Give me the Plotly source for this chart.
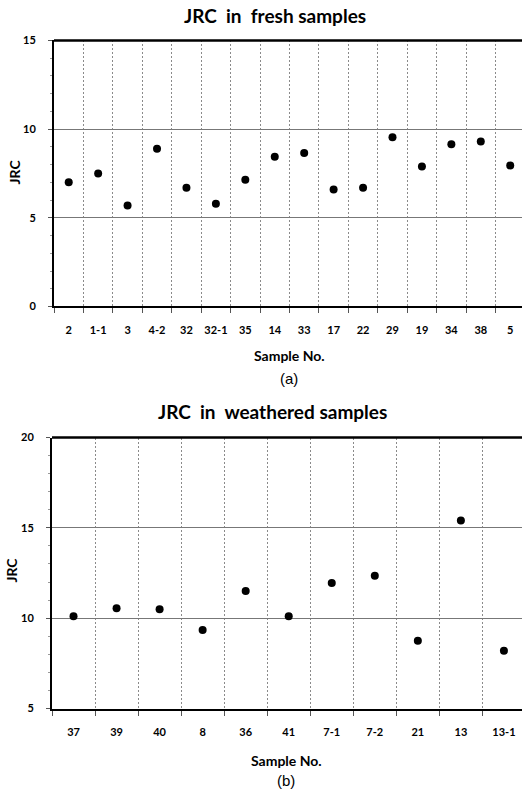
import plotly.graph_objects as go

fresh_samples = ["2", "1-1", "3", "4-2", "32", "32-1", "35", "14", "33", "17", "22", "29", "19", "34", "38", "5"]
fresh_jrc = [7.0, 7.5, 5.7, 8.9, 6.7, 5.8, 7.15, 8.45, 8.65, 6.6, 6.7, 9.55, 7.9, 9.15, 9.3, 7.95]

weathered_samples = ["37", "39", "40", "8", "36", "41", "7-1", "7-2", "21", "13", "13-1"]
weathered_jrc = [10.1, 10.55, 10.5, 9.35, 11.5, 10.1, 11.95, 12.35, 8.75, 15.4, 8.2]

W, H = 522, 791
S = 0.9835  # empirical vertical compensation

def fy(px):
    p = 395.5 + (px - 395.5) / S
    return 1 - p / H

fig = go.Figure()

fx = list(range(1, len(fresh_samples) + 1))
wx = list(range(1, len(weathered_samples) + 1))

fig.add_trace(go.Scatter(x=fx, y=fresh_jrc, mode="markers",
                         marker=dict(color="black", size=8), xaxis="x", yaxis="y", showlegend=False))
fig.add_trace(go.Scatter(x=wx, y=weathered_jrc, mode="markers",
                         marker=dict(color="black", size=8), xaxis="x2", yaxis="y2", showlegend=False))

tickfont = dict(family="Lato, Open Sans, sans-serif", size=11, color="black", weight="bold")

def xaxis(n, labels, dom, anchor, rend):
    return dict(domain=dom, anchor=anchor, range=[0.5, rend],
                tickvals=list(range(1, n + 1)), ticktext=labels, tickfont=tickfont,
                showgrid=False, zeroline=False, showline=True, linecolor="black", linewidth=2,
                ticks="", ticklabelstandoff=12,
                minor=dict(tick0=0.5, dtick=1, showgrid=True, gridcolor="#8a8a8a",
                           griddash="2px,2px", gridwidth=1, ticks="outside", ticklen=5, tickcolor="#555"))

def yaxis(rng, dtick, dom, anchor):
    return dict(domain=dom, anchor=anchor, range=rng, dtick=dtick, tick0=0,
                tickfont=tickfont, showgrid=True, gridcolor="#777", gridwidth=1,
                zeroline=False, showline=True, linecolor="black", linewidth=2,
                ticks="outside", ticklen=4, tickcolor="#555", ticklabelstandoff=10,
                minor=dict(dtick=1, ticks="outside", ticklen=2, tickcolor="#999", showgrid=False))

fig.update_layout(
    width=W, height=H, margin=dict(l=0, r=0, t=0, b=0),
    paper_bgcolor="white", plot_bgcolor="white",
    xaxis=xaxis(len(fresh_samples), fresh_samples, [54 / W, 1.0], "y", 16.4),
    yaxis=yaxis([0, 15], 5, [fy(306), fy(40)], "x"),
    xaxis2=xaxis(len(weathered_samples), weathered_samples, [52 / W, 1.0], "y2", 11.42),
    yaxis2=yaxis([5, 20], 5, [fy(708), fy(437)], "x2"),
)

# thick top borders
for xs, yp in [(54 / W, fy(40)), (52 / W, fy(437))]:
    fig.add_shape(type="line", xref="paper", yref="paper", x0=xs, x1=1.0, y0=yp, y1=yp,
                  line=dict(color="black", width=2.5))

titlefont = dict(family="Lato, Open Sans, sans-serif", size=19, color="black", weight="bold")
labfont = dict(family="Lato, Open Sans, sans-serif", size=14, color="black", weight="bold")
capfont = dict(family="Liberation Sans, Arial, sans-serif", size=15, color="black")

def ann(text, x, y, font, angle=0):
    fig.add_annotation(text=text, xref="paper", yref="paper", x=x / W, y=fy(y),
                       showarrow=False, font=font, textangle=angle, xanchor="center", yanchor="middle")

ann("JRC  in  fresh samples", 275, 15, titlefont)
ann("Sample No.", 289, 355, labfont)
ann("(a)", 289, 378, capfont)
ann("JRC", 14, 172, labfont, -90)

ann("JRC  in  weathered samples", 272, 411, titlefont)
ann("Sample No.", 286, 760, labfont)
ann("(b)", 286, 780, capfont)
ann("JRC", 12, 570, labfont, -90)

fig.write_html("out.html", config={"displayModeBar": False},
               post_script="document.body.style.margin='0px';document.body.style.overflow='hidden';")
